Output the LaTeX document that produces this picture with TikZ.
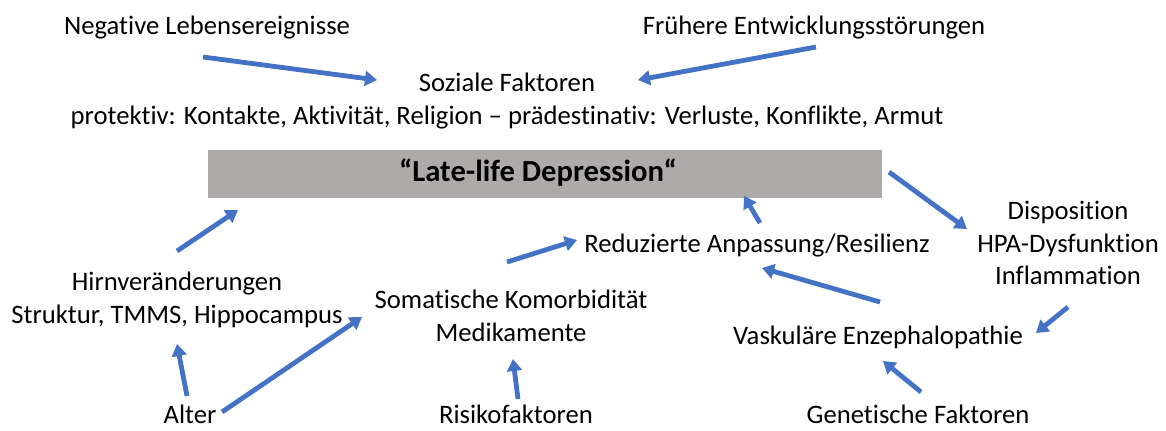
\documentclass[tikz,border=0pt]{standalone}
\usepackage{fontspec}
\setmainfont{Carlito}[Ligatures=NoCommon]
\usetikzlibrary{arrows.meta}
\definecolor{arrowblue}{HTML}{4472C4}
\definecolor{boxgray}{HTML}{AEAAAA}
\begin{document}
\begin{tikzpicture}[x=0.75pt,y=-0.75pt,
  lbl/.style={font=\fontsize{20}{24.5}\selectfont, align=center, inner sep=0pt},
  arr/.style={draw=arrowblue, line width=3.6pt, -{Triangle[length=9pt,width=11pt]}}]
\useasboundingbox (0,0) rectangle (1166,430);

% main box
\node[fill=boxgray, minimum width=505.5pt, minimum height=36pt, inner sep=0pt] (lld) at (545,174) {};
\node[font=\fontsize{23}{27}\selectfont\bfseries, inner sep=0pt] (lldtxt) at (538,173) {“Late-life Depression“};

% text nodes
\node[lbl] (neg) at (207,28) {Negative Lebensereignisse};
\node[lbl] (fru) at (814,28) {Frühere Entwicklungsstörungen};
\node[lbl] (soz) at (507,101) {Soziale Faktoren\\protektiv: Kontakte, Aktivität, Religion – prädestinativ: Verluste, Konflikte, Armut};
\node[lbl] (hirn) at (177,300) {Hirnveränderungen\\Struktur, TMMS, Hippocampus};
\node[lbl] (som) at (511,316) {Somatische Komorbidität\\Medikamente};
\node[lbl] (red) at (757,246) {Reduzierte Anpassung/Resilienz};
\node[lbl] (disp) at (1068,243) {Disposition\\HPA-Dysfunktion\\Inflammation};
\node[lbl] (vask) at (878,337) {Vaskuläre Enzephalopathie};
\node[lbl] (alter) at (190,414) {Alter};
\node[lbl] (risk) at (516,414) {Risikofaktoren};
\node[lbl] (gen) at (918,414) {Genetische Faktoren};

% arrow end points
\coordinate (negT) at (203,57);   \coordinate (negH) at (377,80);
\coordinate (fruT) at (816,47);   \coordinate (fruH) at (638,80);
\coordinate (hirnT) at (177,251); \coordinate (hirnH) at (238,210);
\coordinate (altT) at (187,396);  \coordinate (altH) at (177,344);
\coordinate (alt2T) at (222,412); \coordinate (alt2H) at (362,317);
\coordinate (somT) at (507,262);  \coordinate (somH) at (577,240);
\coordinate (riskT) at (518,399); \coordinate (riskH) at (513,359);
\coordinate (redT) at (760,223);  \coordinate (redH) at (744,196);
\coordinate (lldT) at (889,172);  \coordinate (lldH) at (967,229);
\coordinate (dispT) at (1068,307);\coordinate (dispH) at (1036,333);
\coordinate (vaskT) at (880,302); \coordinate (vaskH) at (762,268);
\coordinate (genT) at (921,392);  \coordinate (genH) at (883,361);

\draw[arr] (negT) -- (negH);
\draw[arr] (fruT) -- (fruH);
\draw[arr] (hirnT) -- (hirnH);
\draw[arr] (altT) -- (altH);
\draw[arr] (alt2T) -- (alt2H);
\draw[arr] (somT) -- (somH);
\draw[arr] (riskT) -- (riskH);
\draw[arr] (redT) -- (redH);
\draw[arr] (lldT) -- (lldH);
\draw[arr] (dispT) -- (dispH);
\draw[arr] (vaskT) -- (vaskH);
\draw[arr] (genT) -- (genH);
\end{tikzpicture}
\end{document}
